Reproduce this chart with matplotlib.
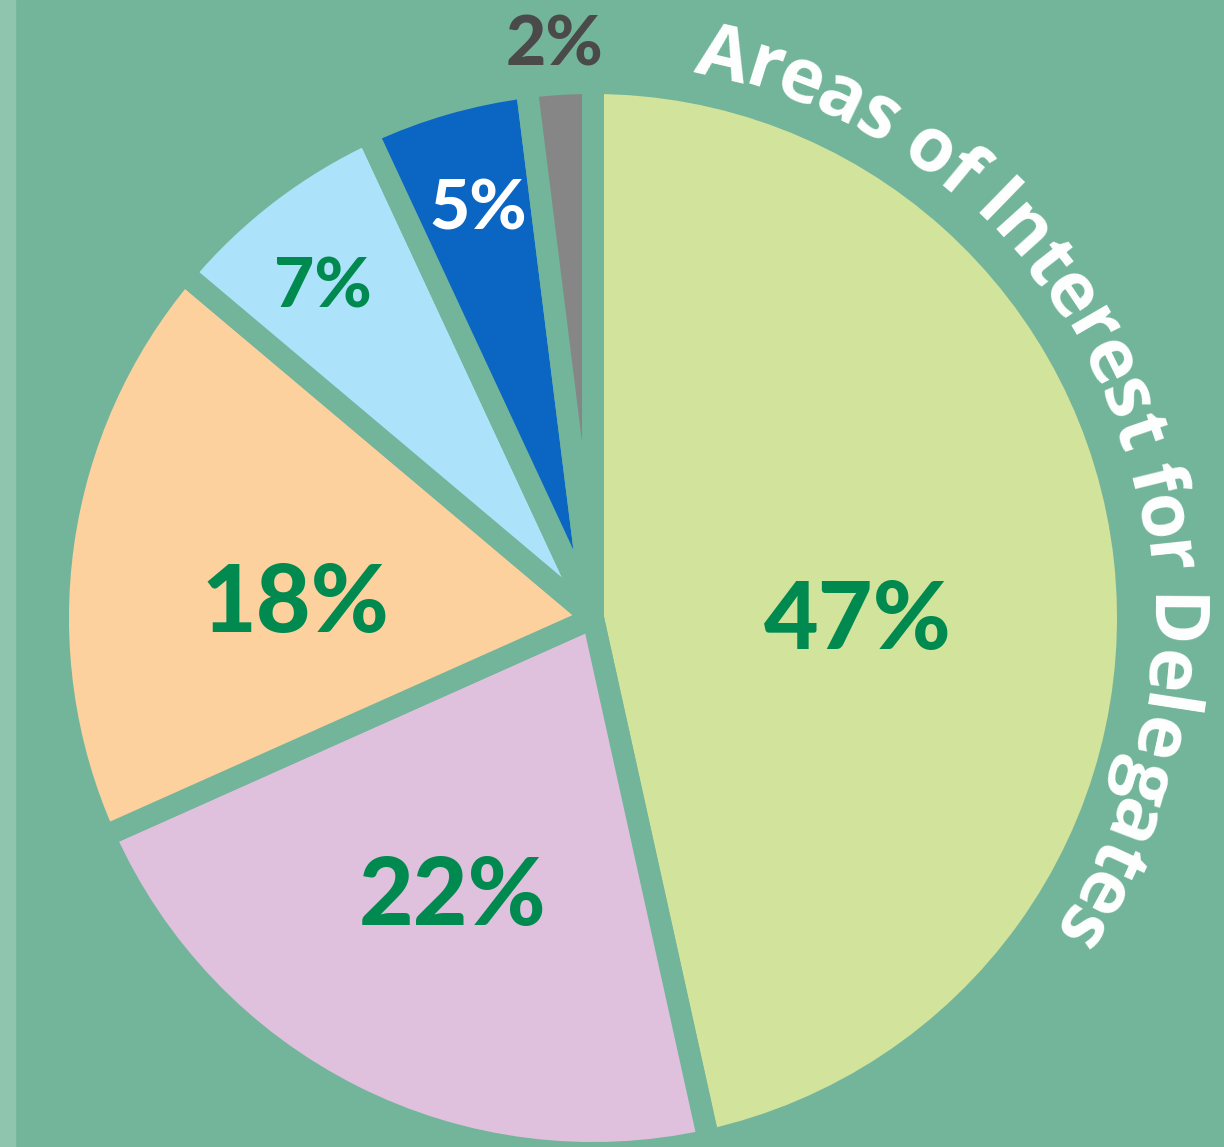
import matplotlib
matplotlib.use("Agg")
import matplotlib.pyplot as plt
from matplotlib.font_manager import FontProperties
import numpy as np

# data
shares = [47, 22, 18, 7, 5, 2]
pct_labels = ['47%', '22%', '18%', '7%', '5%', '2%']
wedge_colors = ['#d2e39c', '#dfc1de', '#fdd19e', '#ade2fb', '#0b66c3', '#868686']
label_colors = ['#008a50', '#008a50', '#008a50', '#008a50', '#ffffff', '#4a4a4a']
title = 'Areas of Interest for Delegates'

# layout (pixel coords, y measured from top)
W, H = 1224, 1147
bg = '#73b59a'
cx, cy = 593, H - 618
label_pos = [(858, 649), (453, 925), (295, 632), (323, 308), (478, 230), (555, 65)]
label_size = [68, 68, 68, 50, 50, 50]

fig = plt.figure(figsize=(W / 100, H / 100), dpi=100, facecolor=bg)
ax = fig.add_axes([0, 0, 1, 1])
ax.set_facecolor(bg)

ax.pie(shares, colors=wedge_colors, startangle=90, counterclock=False,
       radius=535, center=(cx, cy), frame=False,
       wedgeprops=dict(edgecolor=bg, linewidth=15.8, joinstyle='round'))
ax.set_xlim(0, W)
ax.set_ylim(0, H)
ax.set_aspect('equal', adjustable='box')
ax.axis('off')

# light strip on the left edge
fig.patches.append(plt.Rectangle((0, 0), 15 / W, 1, transform=fig.transFigure,
                                 color='#8fc5ae', zorder=0))

for txt, (x, y), c, s in zip(pct_labels, label_pos, label_colors, label_size):
    ax.text(x, H - y, txt, ha='center', va='baseline', color=c,
            fontsize=s, fontfamily='Lato', fontweight='black')

# title bent round the outside of the pie
fp = FontProperties(family='Open Sans', weight='bold', size=54)
renderer = fig.canvas.get_renderer()

def width(s):
    return renderer.get_text_width_height_descent(s, fp, ismath=False)[0]

r_base = 555
start, end = np.radians(10.5), np.radians(124.5)
k = (end - start) * r_base / width(title)
for i, ch in enumerate(title):
    if ch == ' ':
        continue
    mid = (width(title[:i + 1]) - width(ch) / 2) * k
    th = start + mid / r_base
    x = cx + r_base * np.sin(th)
    y = cy + r_base * np.cos(th)
    ax.text(x, y, ch, fontproperties=fp, color='white', ha='center',
            va='baseline', rotation=-np.degrees(th), rotation_mode='anchor')

fig.savefig('out.png', dpi=100, facecolor=bg)
